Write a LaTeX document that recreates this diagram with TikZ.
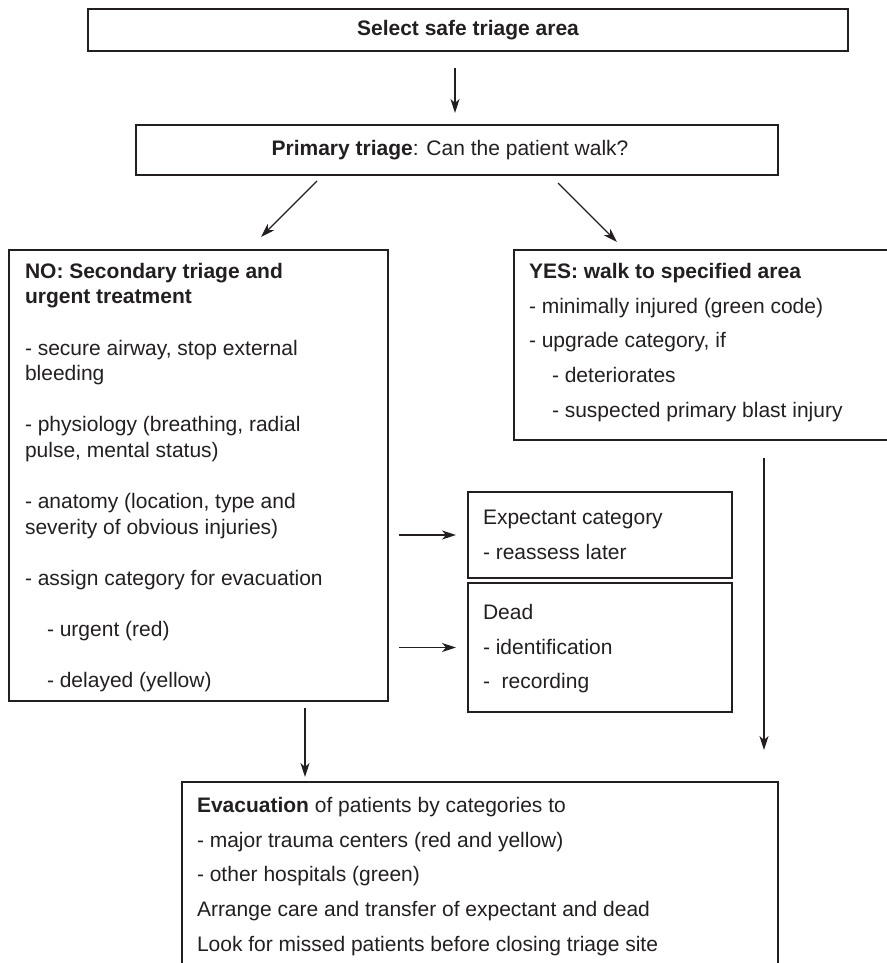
\documentclass[tikz,border=0pt]{standalone}
\usepackage{fontspec}
\setmainfont{Liberation Sans}
\usetikzlibrary{arrows.meta}
\definecolor{ink}{RGB}{35,31,32}
\begin{document}
\begin{tikzpicture}[x=1pt,y=-1pt,
  box/.style={draw=ink, line width=1.3pt, rectangle, inner sep=0pt, outer sep=0pt},
  boxtext/.style={text=ink, inner sep=0pt, outer sep=0pt, align=left, anchor=north west,
    font=\fontsize{21}{34.8}\selectfont},
  arr/.style={draw=ink, line width=1.1pt, -{Stealth[length=14pt,width=9pt,inset=4pt]}}]
\useasboundingbox (0,0) rectangle (886,963);

% frames
\node[box, minimum width=760pt, minimum height=42pt] (select) at (468,30) {};
\node[box, minimum width=642pt, minimum height=50pt] (primary) at (457,150) {};
\node[box, minimum width=379pt, minimum height=451pt] (no) at (198.5,475.5) {};
\node[box, minimum width=386pt, minimum height=190pt] (yes) at (707,345) {};
\node[box, minimum width=264pt, minimum height=86pt] (expectant) at (600,535) {};
\node[box, minimum width=264pt, minimum height=129pt] (dead) at (600,647.5) {};
\node[box, minimum width=596pt, minimum height=198pt] (evac) at (480,881) {};

% texts
\node[boxtext, anchor=center, font=\fontsize{21}{25}\selectfont\bfseries] (selectT) at (select) {Select safe triage area};
\node[boxtext, anchor=center] (primaryT) at (450,150) {\textbf{Primary triage}: Can the patient walk?};
\node[boxtext, font=\fontsize{21}{25.6}\selectfont] (noT) at (25,263)
  {\textbf{NO: Secondary triage and}\\
   \textbf{urgent treatment}\\[25.6pt]
   - secure airway, stop external\\
   bleeding\\[25.6pt]
   - physiology (breathing, radial\\
   pulse, mental status)\\[25.6pt]
   - anatomy (location, type and\\
   severity of obvious injuries)\\[25.6pt]
   - assign category for evacuation\\[25.6pt]
   \hspace*{22pt}- urgent (red)\\[25.6pt]
   \hspace*{22pt}- delayed (yellow)};
\node[boxtext] (yesT) at (529,263)
  {\textbf{YES: walk to specified area}\\
   - minimally injured (green code)\\
   - upgrade category, if\\
   \hspace*{23pt}- deteriorates\\
   \hspace*{23pt}- suspected primary blast injury};
\node[boxtext] (expectantT) at (483,510)
  {Expectant category\\
   - reassess later};
\node[boxtext] (deadT) at (483,604)
  {Dead\\
   - identification\\
   -\ \ recording};
\node[boxtext] (evacT) at (197,797)
  {\textbf{Evacuation} of patients by categories to\\
   - major trauma centers (red and yellow)\\
   - other hospitals (green)\\
   Arrange care and transfer of expectant and dead\\
   Look for missed patients before closing triage site};

% connectors
\draw[arr] ([xshift=-13pt,yshift=-17pt]select.south) -- ([xshift=-2pt,yshift=12pt]primary.north);
\draw[arr] ([xshift=-140pt,yshift=-6pt]primary.south) -- ([xshift=62.5pt,yshift=13pt]no.north);
\draw[arr] ([xshift=101pt,yshift=-8pt]primary.south) -- ([xshift=-90pt,yshift=8pt]yes.north);
\draw[arr, shorten <=11pt, shorten >=12pt] (no.east |- expectant.west) -- (expectant.west);
\draw[arr, shorten <=11pt, shorten >=12pt] (no.east |- dead.west) -- (dead.west);
\draw[arr] ([xshift=106.5pt,yshift=-7pt]no.south) -- ([xshift=-175pt,yshift=5pt]evac.north);
\draw[arr] ([xshift=57pt,yshift=-18pt]yes.south) -- ([xshift=284pt,yshift=32pt]evac.north);
\end{tikzpicture}
\end{document}
